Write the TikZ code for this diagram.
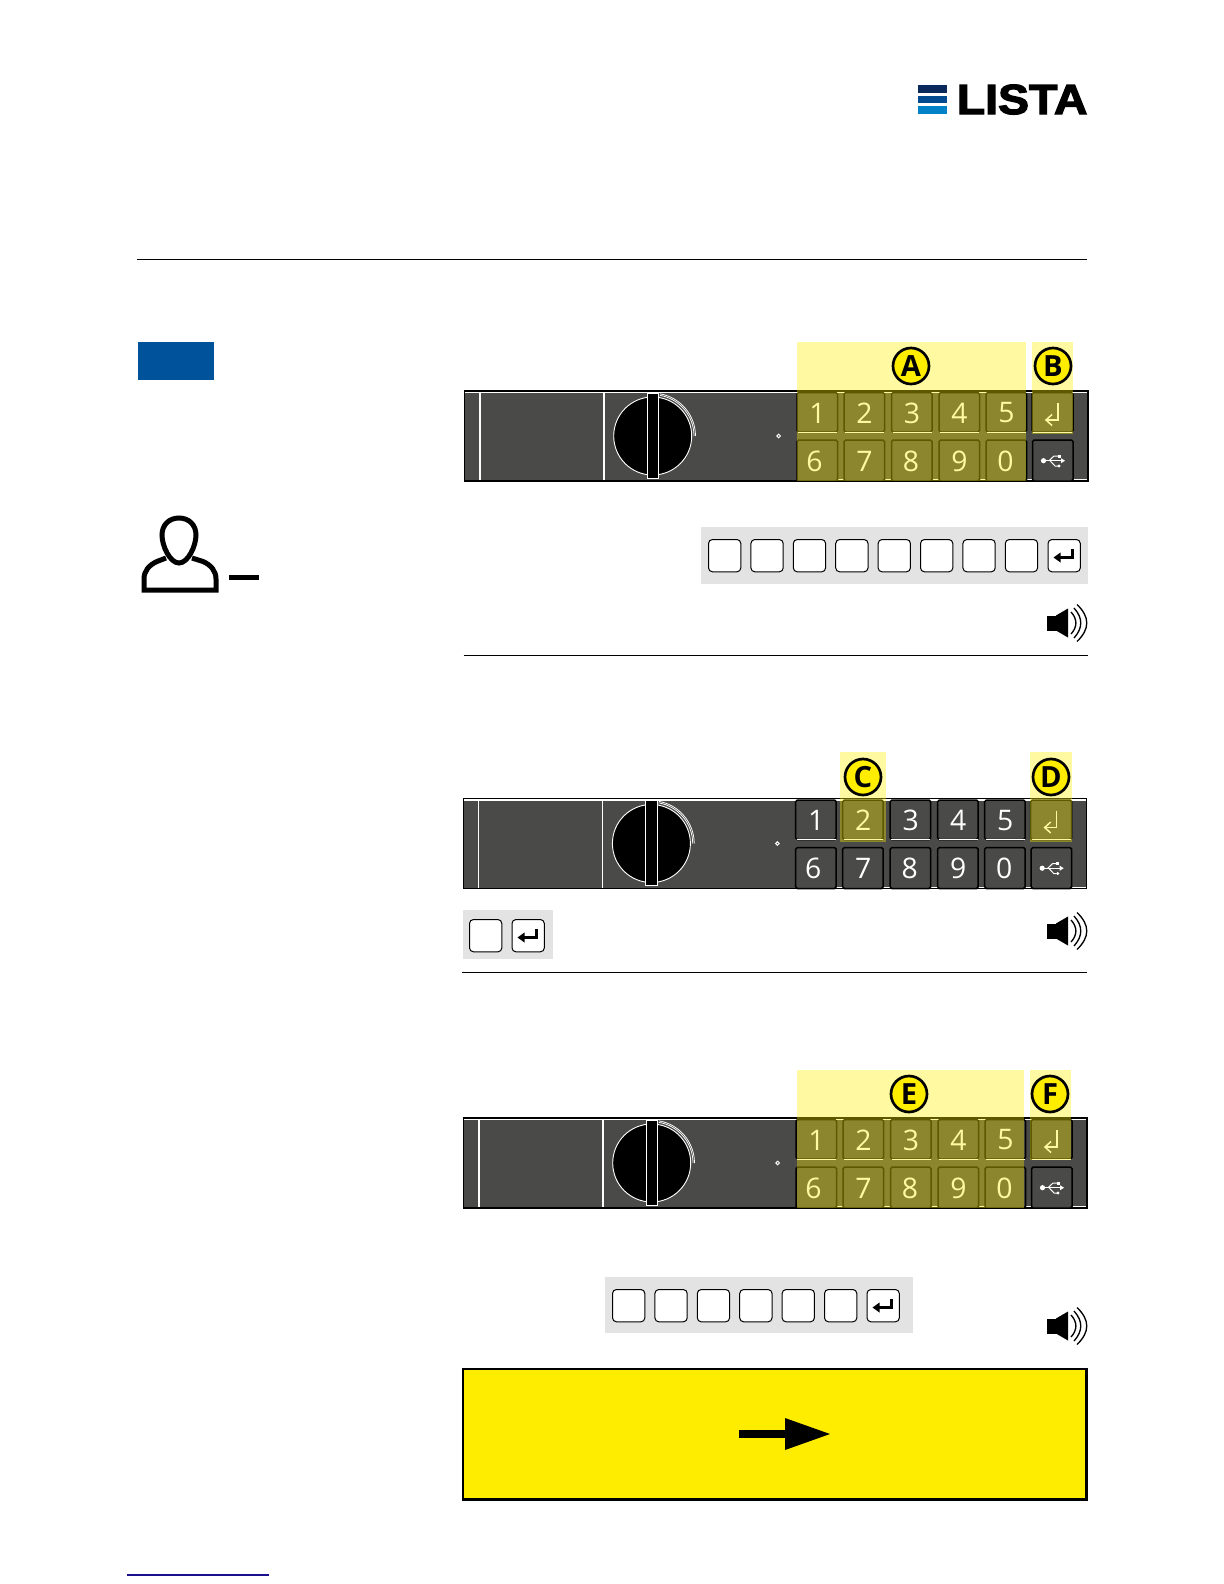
\documentclass[tikz,border=0pt]{standalone}
\usepackage{fontspec}
\setmainfont{Open Sans}
\newfontfamily\logofont[FakeStretch=1.105,BoldFeatures={FakeBold=3}]{Liberation Sans}
\definecolor{paneldark}{HTML}{4A4A49}
\definecolor{hl}{HTML}{FFF000}
\definecolor{signal}{HTML}{FFED00}
\definecolor{graybar}{HTML}{E3E3E3}
\definecolor{lblue}{HTML}{00529B}
\definecolor{logoa}{HTML}{0B2A5B}
\definecolor{logob}{HTML}{004A90}
\definecolor{logoc}{HTML}{0082C8}
\definecolor{navyline}{HTML}{1A0F8C}
\tikzset{
  panelbox/.style={fill=paneldark,draw=black,line width=0.8pt},
  whiteline/.style={draw=white,line width=0.7pt},
  keytop/.style={fill=paneldark,draw=black,line width=0.9pt,rounded corners=1pt},
  digit/.style={text=white,font=\fontsize{17}{17}\selectfont,inner sep=0pt},
  marker/.style={circle,draw=black,fill=signal,line width=1.6pt,minimum size=21.6pt,inner sep=0pt,font=\fontsize{17.5}{17.5}\selectfont\bfseries},
  hlbox/.style={fill=hl,fill opacity=.37,draw=none},
  bar/.style={fill=graybar,draw=none},
  capkey/.style={fill=white,draw=black,line width=0.6pt,rounded corners=2.4pt,minimum width=19.4pt,minimum height=19.4pt,inner sep=0pt,anchor=north west},
  rule/.style={draw=black,line width=0.6pt},
  speakerarc/.style={draw=black,line width=0.8pt},
}
% lock panel drawn in the coordinates of the first panel
\newcommand{\lockpanel}[1]{%
  \begin{scope}[shift={#1}]
    \fill[paneldark] (464.5,391) rectangle (1088,481);
    \draw[whiteline] (465,392.5) -- (1087,392.5);
    \draw[whiteline] (797,479.7) -- (1087,479.7);
    \draw[panelbox,fill=none] (464.5,391) rectangle (1088,481);
    \draw[whiteline] (480,392) -- (480,480);
    \draw[whiteline] (604,392) -- (604,480);
    \fill[black] (652.7,436) circle[radius=39];
    \draw[white,line width=0.55pt] (652.7,436) circle[radius=39];
    \draw[white,line width=0.45pt] (694,436) arc[start angle=0,end angle=-80,radius=41.3];
    \draw[white,line width=0.45pt] (695.5,436) arc[start angle=0,end angle=-80,radius=42.8];
    \fill[black] (647,393) rectangle (658.7,478);
    \draw[white,line width=0.5pt] (647,393) rectangle (658.7,478);
    \draw[white,line width=0.6pt] (778.7,436) circle[radius=1.8];
    \foreach \kx/\dg/\dgb/\oa in {797/1/6/-3,844/2/7/0,891.5/3/8/-1,939/4/9/0,986/5/0/-1}{
      \draw[keytop] (\kx,392.5) rectangle ++(40.5,39.5);
      \draw[whiteline] (\kx+1,432.3) -- ++(39,0);
      \draw[keytop] (\kx,440) rectangle ++(40.5,41);
      \node[digit] at (\kx+20.5,413) {\dg};
      \node[digit] at (\kx+20.5+\oa,461) {\dgb};
    }
    \draw[keytop] (1032,392.5) rectangle ++(41,39.5);
    \draw[whiteline] (1033,432.3) -- ++(39,0);
    \draw[keytop] (1032.5,440) rectangle ++(40.5,41);
    \draw[white,line width=0.9pt] (1058,403) -- (1058,420) -- (1046,420);
    \draw[white,line width=0.9pt] (1052,414.5) -- (1046,420) -- (1052,425.5);
    \fill[white] (1043.5,460.7) circle[radius=2.6];
    \draw[white,line width=0.6pt] (1043.5,460.7) -- (1062,460.7);
    \fill[white] (1065,460.7) -- (1061,458.2) -- (1061,463.2) -- cycle;
    \draw[white,line width=0.6pt] (1049,460.7) -- (1054,456) -- (1058,456);
    \fill[white] (1057.5,454.5) rectangle ++(3,3);
    \draw[white,line width=0.6pt] (1050,460.7) -- (1055,466) -- (1058,466);
    \fill[white] (1059,466) circle[radius=1.6];
  \end{scope}}
% enter key cap with its arrow
\newcommand{\enterkey}[3]{%
  \node[capkey] (#3) at (#1,#2) {};
  \begin{scope}[shift={(#1,#2)}]
    \draw[black,line width=2.2pt] (25,10) -- (25,18.5) -- (11,18.5);
    \fill[black] (6,18.5) -- (13,13.5) -- (13,23.5) -- cycle;
  \end{scope}}
% speaker centred near the cone
\newcommand{\speaker}[2]{%
  \begin{scope}[shift={(#1,#2)}]
    \fill[black] (-13,-7.5) rectangle (-3,7.5);
    \fill[black] (-4,-7.5) -- (8,-14.5) -- (8,14.5) -- (-4,7.5) -- cycle;
    \draw[speakerarc] (11,-11) .. controls (17.5,-4) and (17.5,4) .. (11,11);
    \draw[speakerarc] (14,-15) .. controls (23,-5) and (23,5) .. (14,15);
    \draw[speakerarc] (17,-18.5) .. controls (30,-6) and (30,6) .. (17,18.5);
  \end{scope}}
\begin{document}
\begin{tikzpicture}[x=0.6pt,y=-0.6pt]
\useasboundingbox (0,0) rectangle (1224,1584);
\fill[white] (0,0) rectangle (1224,1584);
% logo
\fill[logoa] (918,85) rectangle (947,92.5);
\fill[logob] (918,95.5) rectangle (947,103);
\fill[logoc] (918,106) rectangle (947,114);
\node[anchor=base west,inner sep=0pt,font=\logofont\fontsize{25.2}{25.2}\selectfont\bfseries] (logo) at (956.5,114) {LISTA};
% rules
\draw[rule] (137,259.5) -- (1087,259.5);
\draw[rule] (463.5,655.5) -- (1088,655.5);
\draw[rule] (462,972.5) -- (1087,972.5);
% blue tab
\fill[lblue] (138,341.5) rectangle (214,380);
% person
\draw[black,line width=3pt] (179,518) .. controls (169,518) and (162,525) .. (162,535)
  .. controls (162,546) and (170,563) .. (179,563)
  .. controls (188,563) and (196,546) .. (196,535)
  .. controls (196,525) and (189,518) .. (179,518) -- cycle;
\draw[black,line width=3pt,line join=miter] (166,558) -- (157,561.5) .. controls (149,565) and (144,571) .. (144,579)
  -- (144,590) -- (216,590) -- (216,579) .. controls (216,571) and (211,565) .. (203,561.5) -- (192,558);
\fill[black] (229,575) rectangle (259,580);
% panels
\lockpanel{(0,0)}
\lockpanel{(-1.3,407.5)}
\lockpanel{(-1,727)}
% highlights panel 1
\fill[hlbox] (797,342) rectangle (1025.7,481);
\fill[hlbox] (1032,342) rectangle (1073,434);
\node[marker] (A) at (911,366) {A};
\node[marker] (B) at (1053,366) {B};
% highlights panel 2
\fill[hlbox] (840,752) rectangle (886,842);
\fill[hlbox] (1030,752) rectangle (1072,842);
\node[marker] (C) at (863,777) {C};
\node[marker] (D) at (1051,777) {D};
% highlights panel 3
\fill[hlbox] (797,1069.5) rectangle (1024,1208);
\fill[hlbox] (1030,1069.5) rectangle (1071,1160);
\node[marker] (E) at (909,1094) {E};
\node[marker] (F) at (1050,1094) {F};
% code bar 1
\fill[bar] (701,526.5) rectangle (1088,584);
\foreach \i in {0,...,7}{
  \node[capkey] (a\i) at (708+42.4*\i,539) {};
}
\enterkey{1047.5}{539}{aenter}
% code bar 2
\fill[bar] (462.5,910) rectangle (553,958.5);
\node[capkey] (b0) at (469,919) {};
\enterkey{511.5}{919}{benter}
% code bar 3
\fill[bar] (605,1276.5) rectangle (913,1333);
\foreach \i in {0,...,5}{
  \node[capkey] (c\i) at (612+42.4*\i,1289) {};
}
\enterkey{866.5}{1289}{center}
% speakers
\speaker{1060}{623}
\speaker{1060}{931}
\speaker{1060}{1326}
% yellow box
\draw[fill=signal,draw=black,line width=1.4pt] (463,1369) rectangle (1086.5,1499.5);
\fill[black] (739,1430) rectangle (786,1438);
\fill[black] (785,1418) -- (830,1434) -- (785,1450) -- cycle;
% foot line
\draw[navyline,line width=0.7pt] (127,1575) -- (269,1575);
\end{tikzpicture}
\end{document}
